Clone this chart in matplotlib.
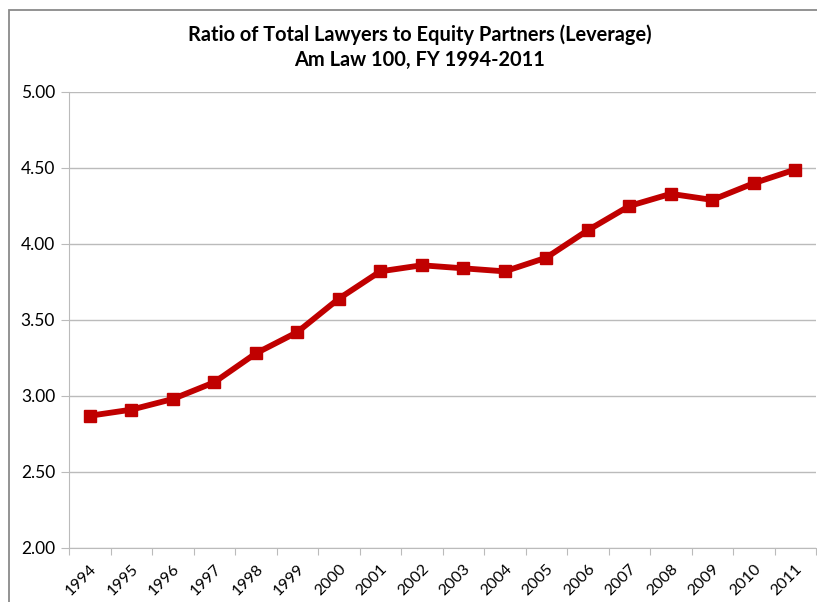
import matplotlib
matplotlib.use("Agg")
import matplotlib.pyplot as plt
from matplotlib.patches import Rectangle

years = ["1994", "1995", "1996", "1997", "1998", "1999", "2000", "2001", "2002",
         "2003", "2004", "2005", "2006", "2007", "2008", "2009", "2010", "2011"]
leverage = [2.87, 2.91, 2.98, 3.09, 3.28, 3.42, 3.64, 3.82, 3.86,
            3.84, 3.82, 3.91, 4.09, 4.25, 4.33, 4.29, 4.40, 4.49]
yticks = [2.0, 2.5, 3.0, 3.5, 4.0, 4.5, 5.0]

plt.rcParams['font.family'] = ['Lato', 'DejaVu Sans']

fig = plt.figure(figsize=(8.17, 6.02), dpi=100)
# outer chart frame (cut off at the right and bottom like the screenshot)
fig.patches.append(Rectangle((9 / 817, -0.1), 1.2, 0.1 + 1 - 10 / 602,
                             transform=fig.transFigure, fill=False,
                             edgecolor="#8a8a8a", linewidth=1.3))

ax = fig.add_axes([69 / 817, 1 - 548 / 602, (816 - 69) / 817, (548 - 92) / 602])

x = range(len(years))
ax.plot(x, leverage, color="#C00000", linewidth=4.2, marker="s",
        markersize=8, zorder=3)

ax.set_xlim(-0.5, len(years) - 0.5)
ax.set_ylim(2.0, 5.0)
ax.set_yticks(yticks)
ax.set_yticklabels(["%.2f" % v for v in yticks], fontsize=12.5)
ax.set_xticks([i - 0.5 for i in range(len(years) + 1)], minor=False)
ax.set_xticklabels([])
ax.set_xticks(list(x), minor=True)
ax.set_xticklabels(years, minor=True, rotation=45, ha="right",
                   rotation_mode="anchor", fontsize=11.5)
ax.tick_params(axis="x", which="minor", length=0, pad=10)
ax.tick_params(axis="x", which="major", length=5, color="#BBBBBB")
ax.tick_params(axis="y", length=6, color="#BBBBBB", pad=4)

ax.grid(axis="y", color="#BBBBBB", linewidth=1)
ax.set_axisbelow(True)
for s in ["top", "right"]:
    ax.spines[s].set_visible(False)
for s in ["left", "bottom"]:
    ax.spines[s].set_color("#BBBBBB")

fig.text(0.514, 1 - 35 / 602, "Ratio of Total Lawyers to Equity Partners (Leverage)",
         ha="center", va="center", fontsize=14.4, fontweight="bold")
fig.text(0.514, 1 - 60 / 602, "Am Law 100, FY 1994-2011",
         ha="center", va="center", fontsize=14.4, fontweight="bold")

fig.savefig("out.png", dpi=100)
